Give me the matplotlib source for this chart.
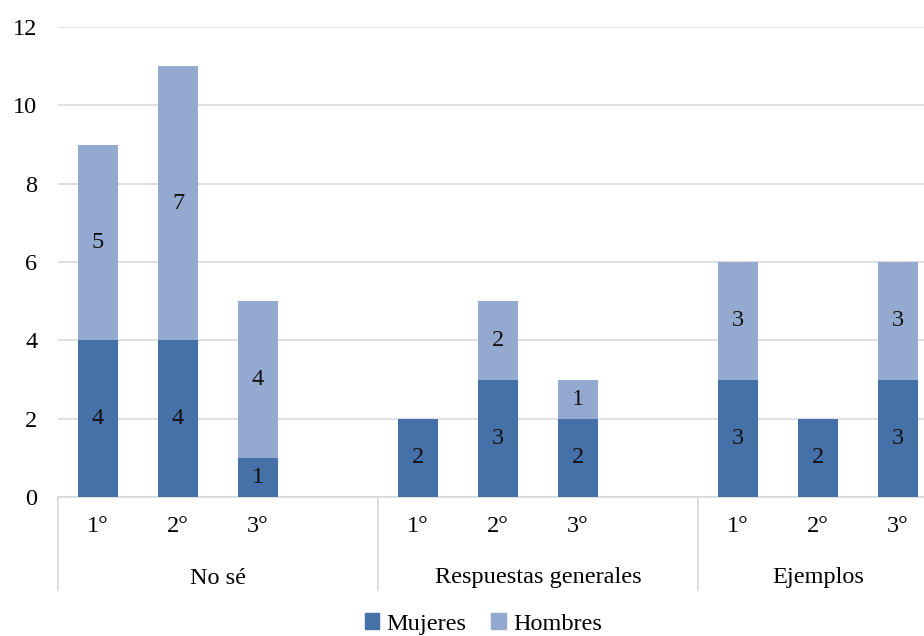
import matplotlib
matplotlib.use("Agg")
import matplotlib.pyplot as plt
from matplotlib.transforms import blended_transform_factory
from matplotlib.patches import Patch

plt.rcParams['font.family'] = ['Liberation Serif', 'DejaVu Serif']

groups = ["No sé", "Respuestas generales", "Ejemplos"]
grades = ["1°", "2°", "3°"]
mujeres = [[4, 4, 1], [2, 3, 2], [3, 2, 3]]
hombres = [[5, 7, 4], [0, 2, 1], [3, 0, 3]]
yticks = [0, 2, 4, 6, 8, 10, 12]

c_m = "#4571A8"
c_h = "#93A9D0"

fig = plt.figure(figsize=(9.24, 6.36), dpi=100)
ax = fig.add_axes([58/924, (636-497)/636, 1 - 58/924, (497-27)/636])

xs, m_vals, h_vals, labels = [], [], [], []
for gi, g in enumerate(groups):
    for k, gr in enumerate(grades):
        xs.append(gi * 4 + k)
        m_vals.append(mujeres[gi][k])
        h_vals.append(hombres[gi][k])
        labels.append(gr)

w = 0.5
ax.bar(xs, m_vals, width=w, color=c_m, zorder=3)
ax.bar(xs, h_vals, width=w, bottom=m_vals, color=c_h, zorder=3)

fs = 17.5
for x, m, h in zip(xs, m_vals, h_vals):
    if m > 0:
        ax.text(x, m / 2, str(m), ha='center', va='center', fontsize=fs, color='#111111', zorder=4)
    if h > 0:
        ax.text(x, m + h / 2, str(h), ha='center', va='center', fontsize=fs, color='#111111', zorder=4)

ax.set_xlim(-0.5, (924 - 58) / 80 - 0.5)
ax.set_ylim(0, 12)
ax.set_yticks(yticks)
ax.set_yticklabels([str(v) for v in yticks], fontsize=fs)
ax.tick_params(axis='y', length=0, pad=15)
ax.yaxis.grid(True, color='#D9D9D9', linewidth=1.2, zorder=0)
ax.set_axisbelow(True)
ax.set_xticks([])
for s in ['top', 'right', 'left']:
    ax.spines[s].set_visible(False)
ax.spines['bottom'].set_color('#D9D9D9')
ax.spines['bottom'].set_linewidth(1.2)

trans = blended_transform_factory(ax.transData, ax.transAxes)
for x, lab in zip(xs, labels):
    ax.text(x, -30 / 470, lab, transform=trans, ha='center', va='center', fontsize=fs)

sep_len = 93 / 470
for sx in [-0.5, 3.5, 7.5]:
    ax.plot([sx, sx], [0, -sep_len], transform=trans, color='#D9D9D9', lw=1.2, clip_on=False)
group_centers = [1.5, 5.5, 9]
for gc, g in zip(group_centers, groups):
    ax.text(gc, -81 / 470, g, transform=trans, ha='center', va='center', fontsize=fs)

handles = [Patch(color=c_m, label='Mujeres'), Patch(color=c_h, label='Hombres')]
fig.legend(handles=handles, loc='center', bbox_to_anchor=(0.523, 1 - 624/636), ncol=2,
           frameon=False, fontsize=fs, handlelength=0.6, handleheight=0.6, handletextpad=0.3,
           columnspacing=1.0, borderpad=0)

fig.savefig("out.png", dpi=100)
